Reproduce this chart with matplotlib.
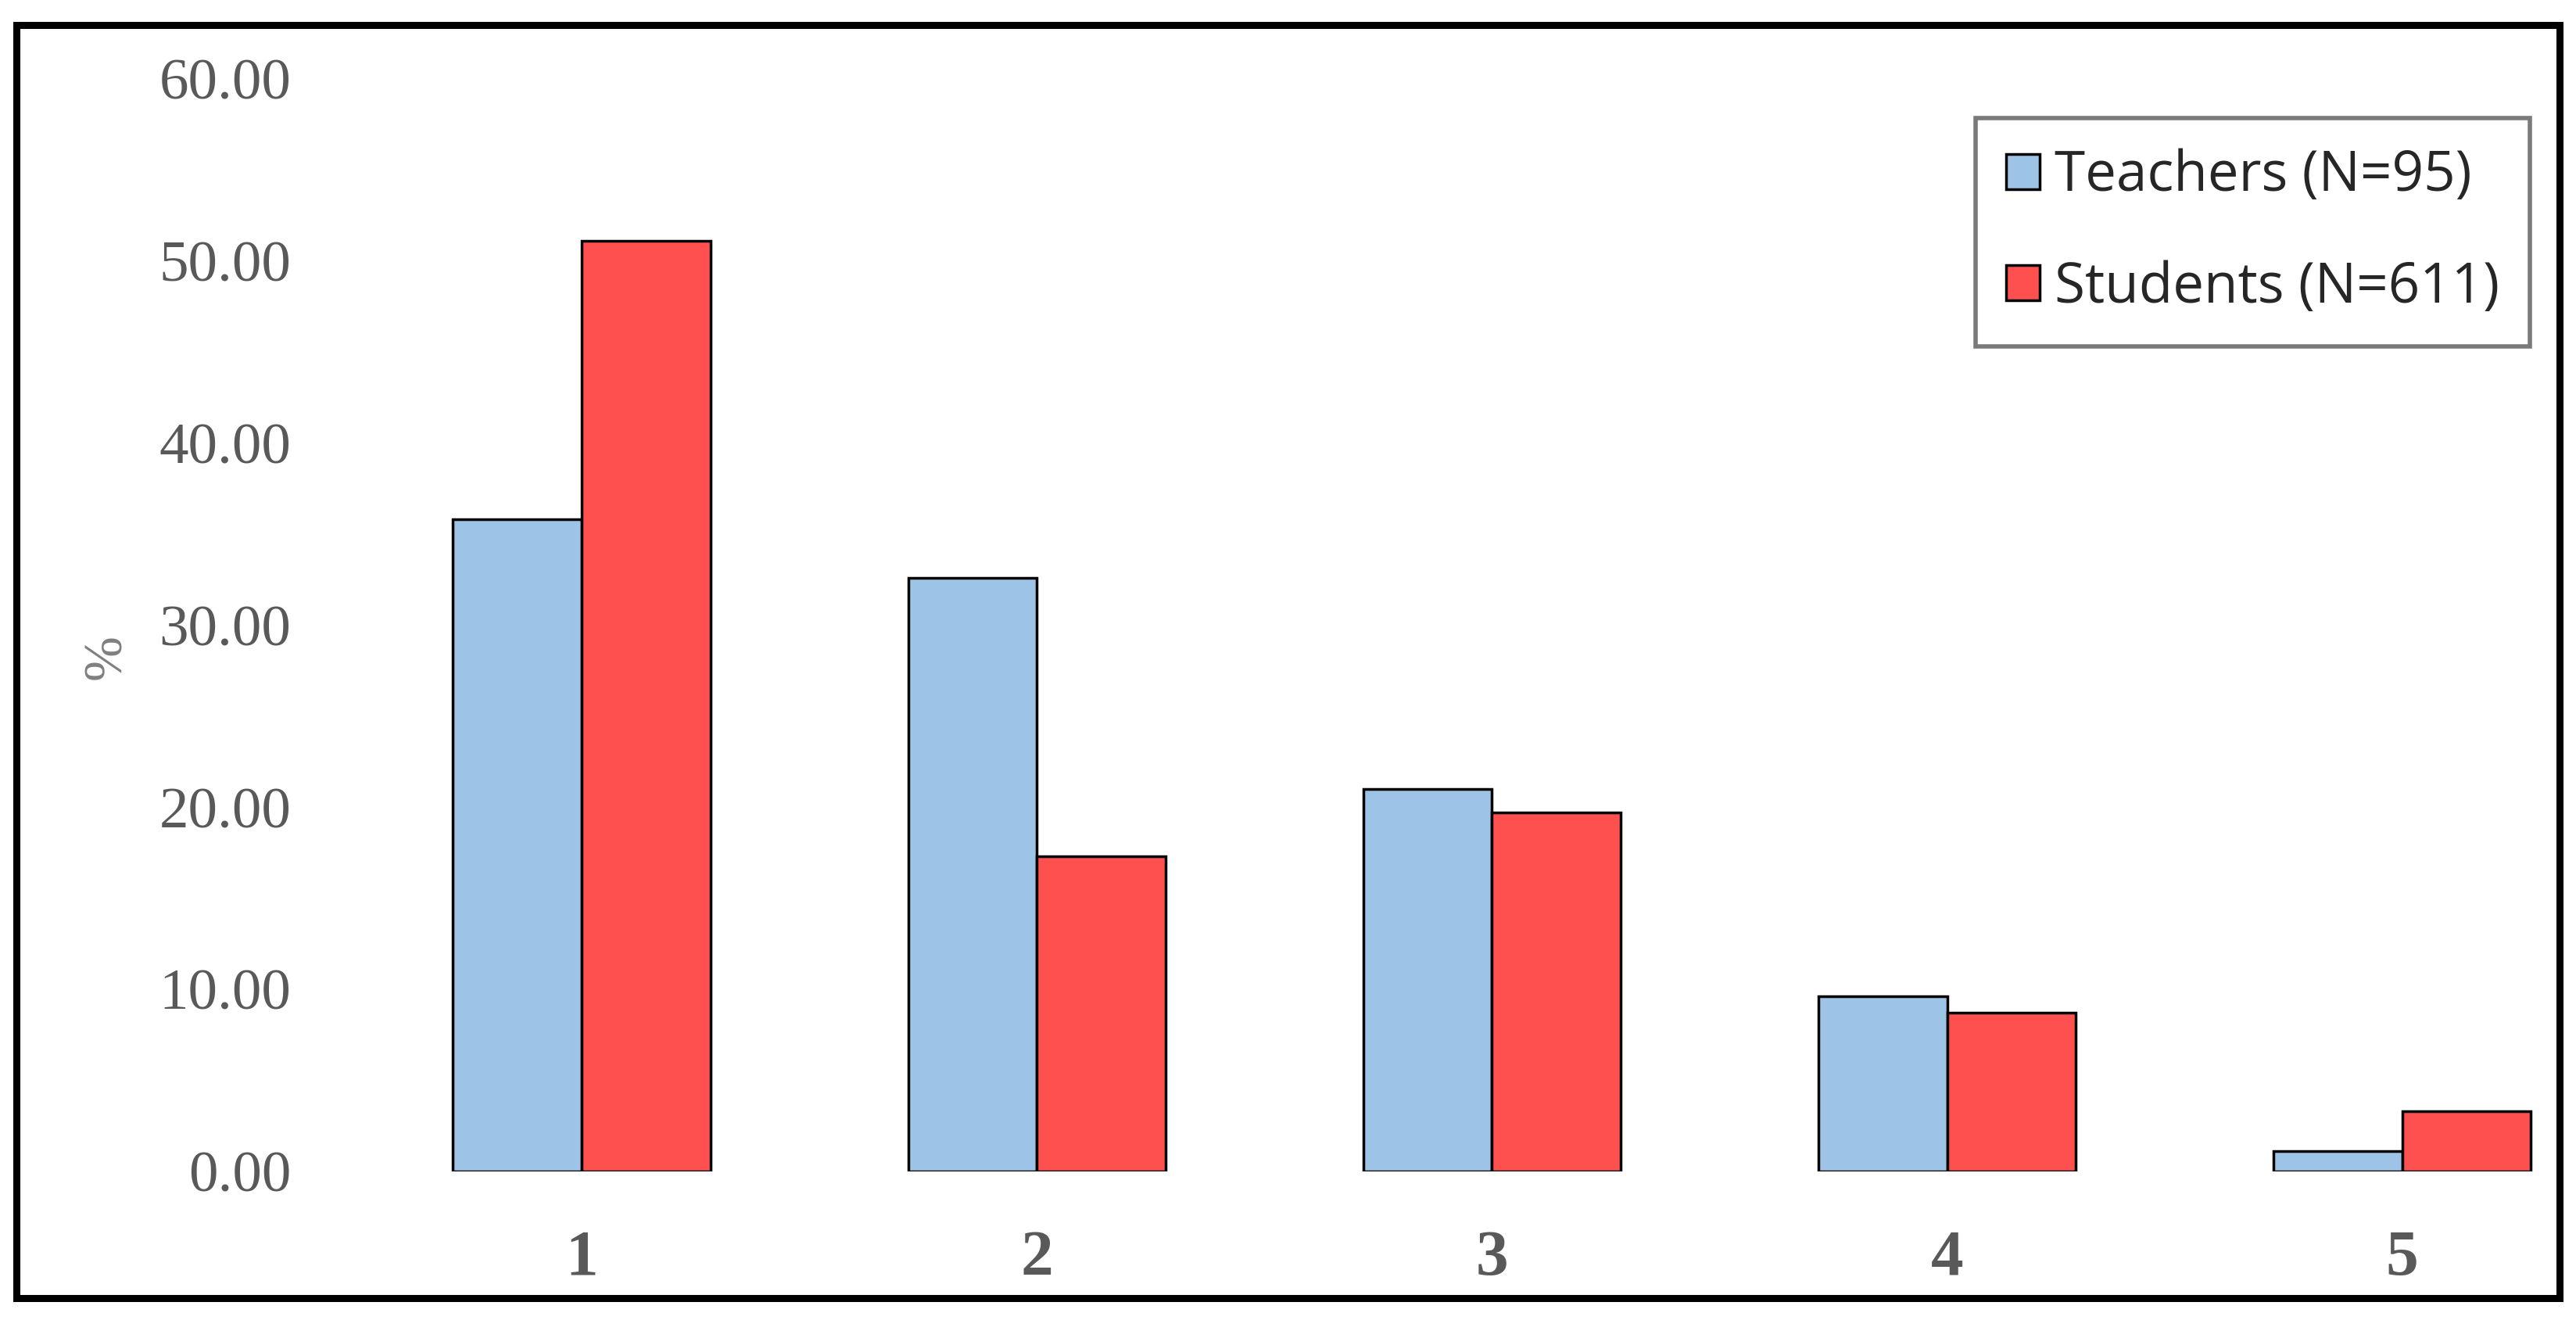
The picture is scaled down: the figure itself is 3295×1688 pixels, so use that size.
import matplotlib
matplotlib.use('Agg')
import matplotlib.pyplot as plt
from matplotlib.patches import Rectangle
import numpy as np

# data
categories = ['1', '2', '3', '4', '5']
teachers = [35.8, 32.6, 21.0, 9.6, 1.1]
students = [51.1, 17.3, 19.7, 8.7, 3.3]
series_labels = ['Teachers (N=95)', 'Students (N=611)']
yticks = [0, 10, 20, 30, 40, 50, 60]

blue = '#9DC3E6'
red = '#FF5050'
gray = '#595959'

fig = plt.figure(figsize=(32.95, 16.88), dpi=100)
ax = fig.add_axes([0.1375, 0.1126, 0.8537, 0.8276])

x = np.arange(1, len(categories) + 1)
w = 0.283
ax.bar(x - w / 2, teachers, w, color=blue, edgecolor='black', linewidth=2.5, label=series_labels[0])
ax.bar(x + w / 2, students, w, color=red, edgecolor='black', linewidth=2.5, label=series_labels[1])

ax.set_xlim(0.5, 5.332)
ax.set_ylim(0, 60)
ax.set_yticks(yticks)
ax.set_yticklabels([f'{v:.2f}' for v in yticks], fontsize=54, family='Liberation Serif', color=gray)
ax.set_xticks(x)
ax.set_xticklabels(categories, fontsize=60, family='Liberation Serif', fontweight='bold', color=gray)
ax.tick_params(axis='y', length=0, pad=58)
ax.tick_params(axis='x', length=0, pad=54)
for s in ax.spines.values():
    s.set_visible(False)

fig.text(137 / 3295, 1 - 840 / 1688, '%', rotation=90, fontsize=50, family='Liberation Serif',
         color='#7f7f7f', ha='center', va='center')

leg = ax.legend(loc='upper right', bbox_to_anchor=(3236 / 3295, 1 - 151 / 1688),
                bbox_transform=fig.transFigure, prop={'family': 'Open Sans', 'size': 51},
                frameon=True, fancybox=False, edgecolor=gray, handlelength=0.6, handleheight=0.6,
                handletextpad=0.27, labelspacing=1.0, borderpad=0.55, borderaxespad=0)
leg.get_frame().set_linewidth(4)
for t in leg.get_texts():
    t.set_color('#262626')

# outer black frame
fig.patches.append(Rectangle((21 / 3295, 1 - 1660 / 1688), (3274 - 21) / 3295, (1660 - 32) / 1688,
                             transform=fig.transFigure, fill=False, edgecolor='black', linewidth=6.5))

fig.savefig('out.png', dpi=100)
